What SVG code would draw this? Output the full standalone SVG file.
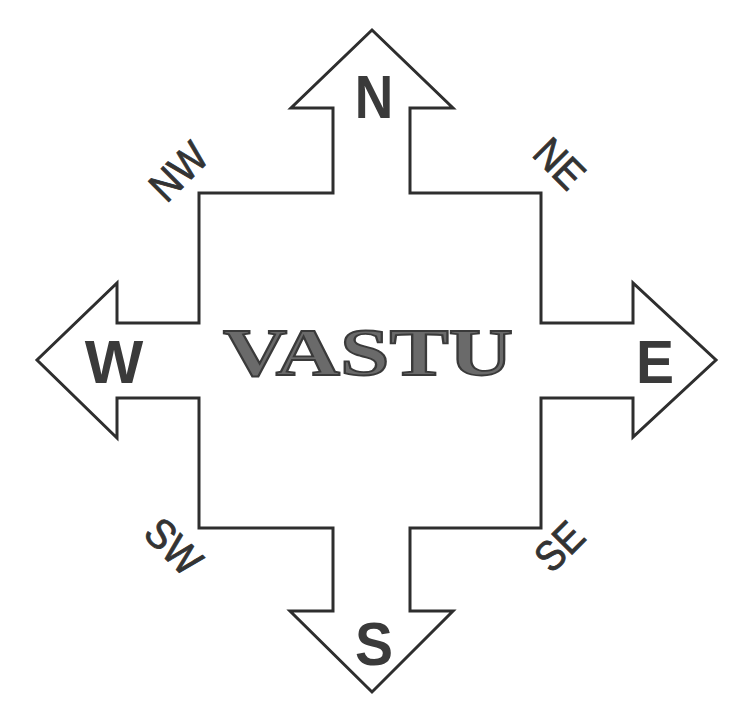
<svg xmlns="http://www.w3.org/2000/svg" width="747" height="721" viewBox="0 0 747 721">
<style>
.outline{fill:none;stroke:#2e2e2e;stroke-width:3;stroke-linejoin:miter}
.dir{font-family:"Liberation Sans",Arial,sans-serif;font-weight:bold;font-size:62px;fill:#3a3a3a;text-anchor:middle}
.sub{font-family:"Liberation Sans",Arial,sans-serif;font-size:42px;fill:#333;stroke:#333;stroke-width:0.9;text-anchor:middle}
.title{font-family:"Liberation Serif","Times New Roman",serif;font-weight:bold;font-size:68px;fill:#6a6a6a;stroke:#3a3a3a;stroke-width:1.8}
</style>
<rect width="747" height="721" fill="#ffffff"/>
<g id="outline">
<polygon class="outline" points="372,30 453,108 410,108 410,193 541,193 541,323 633,323 633,283 716,360 633,437 633,398 541,398 541,528 410,528 410,611 453,611 372,692 290,611 333,611 333,528 199,528 199,398 117,398 117,438 37,360 117,283 117,323 199,323 199,193 333,193 333,108 291,108"/>
</g>
<g id="title"><text class="title" x="223" y="375" textLength="290" lengthAdjust="spacingAndGlyphs">VASTU</text></g>
<g id="north"><text class="dir" transform="translate(374,118) scale(0.86,1)">N</text></g>
<g id="west"><text class="dir" x="114" y="383">W</text></g>
<g id="east"><text class="dir" transform="translate(655,383) scale(0.92,1)">E</text></g>
<g id="south"><text class="dir" transform="translate(374,665) scale(0.92,1)">S</text></g>
<g id="northwest"><text class="sub" transform="translate(178,171) rotate(-45) scale(0.9,1)" dy="0.36em">NW</text></g>
<g id="northeast"><text class="sub" transform="translate(560,163) rotate(45) scale(0.9,1)" dy="0.36em">NE</text></g>
<g id="southwest"><text class="sub" transform="translate(174,546) rotate(45) scale(0.9,1)" dy="0.36em">SW</text></g>
<g id="southeast"><text class="sub" transform="translate(559,546) rotate(-45) scale(0.9,1)" dy="0.36em">SE</text></g>
</svg>
